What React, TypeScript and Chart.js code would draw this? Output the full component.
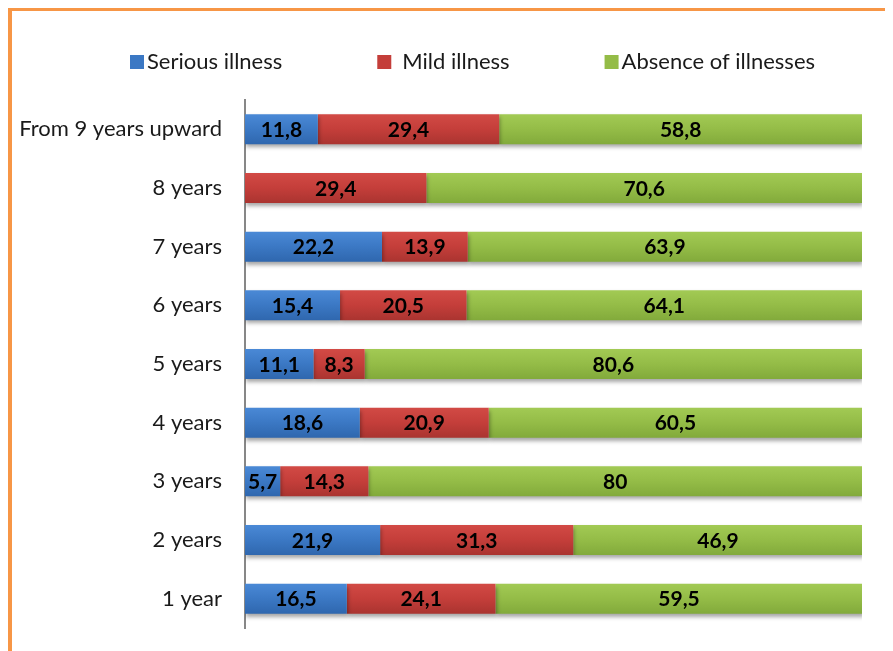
import React, { useEffect, useRef } from 'react';
import { Chart, registerables } from 'chart.js';

Chart.register(...registerables);

const categories = [
  'From 9 years upward',
  '8 years',
  '7 years',
  '6 years',
  '5 years',
  '4 years',
  '3 years',
  '2 years',
  '1 year',
];
const seriousIllness = [11.8, null, 22.2, 15.4, 11.1, 18.6, 5.7, 21.9, 16.5];
const mildIllness = [29.4, 29.4, 13.9, 20.5, 8.3, 20.9, 14.3, 31.3, 24.1];
const absenceOfIllnesses = [58.8, 70.6, 63.9, 64.1, 80.6, 60.5, 80, 46.9, 59.5];
const seriesNames = ['Serious illness', 'Mild illness', 'Absence of illnesses'];
const seriesColors = ['#3b78c4', '#c43e3a', '#94bc47'];
const seriesTop = ['#4a89d6', '#d24a45', '#a2ca54'];
const seriesBottom = ['#2f67ae', '#aa3430', '#82aa3b'];

const BAR_FRACTION = 0.51;

const fmt = (v: number) => String(v).replace('.', ',');

const shadowAndLabels = {
  id: 'shadowAndLabels',
  beforeDatasetsDraw(chart: any) {
    const ctx = chart.ctx;
    ctx.save();
    ctx.shadowColor = 'rgba(0,0,0,0.35)';
    ctx.shadowBlur = 4;
    ctx.shadowOffsetX = 1;
    ctx.shadowOffsetY = 3;
  },
  afterDatasetsDraw(chart: any) {
    const ctx = chart.ctx;
    ctx.restore();
    ctx.save();
    ctx.font = 'bold 21px Lato';
    ctx.fillStyle = '#000';
    ctx.textAlign = 'center';
    ctx.textBaseline = 'middle';
    chart.data.datasets.forEach((ds: any, i: number) => {
      const meta = chart.getDatasetMeta(i);
      meta.data.forEach((bar: any, j: number) => {
        const v = ds.data[j];
        if (v == null || v === 0) return;
        const p = bar.getProps(['x', 'base', 'y'], true);
        ctx.fillText(fmt(v), (p.x + p.base) / 2, p.y + 1);
      });
    });
    ctx.restore();
  },
};

const customLegend = {
  id: 'customLegend',
  afterDraw(chart: any) {
    const ctx = chart.ctx;
    ctx.save();
    ctx.font = '22px Lato';
    ctx.textBaseline = 'middle';
    ctx.textAlign = 'left';
    let x = 118;
    const y = 51;
    const box = 14;
    seriesNames.forEach((name, i) => {
      ctx.fillStyle = seriesColors[i];
      ctx.fillRect(x, y - box / 2, box, box);
      const tx = x + box + (i === 1 ? 11 : 3);
      ctx.fillStyle = '#1a1a1a';
      ctx.fillText(name, tx, y);
      x = tx + ctx.measureText(name).width + 95;
    });
    ctx.restore();
  },
};

function gradientFor(i: number) {
  return (c: any) => {
    const chart = c.chart;
    const ys = chart.scales && chart.scales.y;
    if (!ys || c.dataIndex === undefined || !chart.chartArea) return seriesColors[i];
    const yc = ys.getPixelForValue(c.dataIndex);
    const h = (ys.height / categories.length) * BAR_FRACTION / 2;
    if (!isFinite(yc) || !isFinite(h) || h <= 0) return seriesColors[i];
    const g = chart.ctx.createLinearGradient(0, yc - h, 0, yc + h);
    g.addColorStop(0, seriesTop[i]);
    g.addColorStop(0.5, seriesColors[i]);
    g.addColorStop(1, seriesBottom[i]);
    return g;
  };
}

export default function App() {
  const canvasRef = useRef<HTMLCanvasElement | null>(null);

  useEffect(() => {
    document.documentElement.style.overflow = 'hidden';
    document.body.style.overflow = 'hidden';
    const canvas = canvasRef.current;
    if (!canvas) return;
    const seriesData = [seriousIllness, mildIllness, absenceOfIllnesses];
    const chart = new Chart(canvas, {
      type: 'bar',
      data: {
        labels: categories,
        datasets: seriesData.map((d, i) => ({
          label: seriesNames[i],
          data: d as any,
          backgroundColor: gradientFor(i) as any,
          borderWidth: 0,
          barPercentage: BAR_FRACTION,
          categoryPercentage: 1,
        })),
      },
      options: {
        indexAxis: 'y',
        animation: false,
        responsive: false,
        maintainAspectRatio: false,
        layout: { padding: { top: 89, right: 31, bottom: 23, left: 0 } },
        plugins: {
          legend: { display: false },
          tooltip: { enabled: false },
          title: { display: false },
        },
        scales: {
          x: { stacked: true, display: false, min: 0, max: 100 },
          y: {
            stacked: true,
            grid: { display: false, drawTicks: false },
            border: { display: true, color: '#878787', width: 2 },
            ticks: {
              color: '#1a1a1a',
              font: { family: 'Lato', size: 22 },
              padding: 23,
            },
            afterFit: (s: any) => {
              s.width = 233;
              s.paddingTop = 0;
              s.paddingBottom = 0;
            },
          },
        },
      },
      plugins: [shadowAndLabels, customLegend],
    });
    return () => chart.destroy();
  }, []);

  return (
    <div
      style={{
        marginTop: -1,
        width: 881,
        height: 640,
        borderLeft: '4px solid #f79646',
        borderTop: '4px solid #f79646',
        position: 'relative',
        background: '#fff',
      }}
    >
      <canvas ref={canvasRef} width={881} height={640} style={{ display: 'block', width: 881, height: 640 }} />
    </div>
  );
}
